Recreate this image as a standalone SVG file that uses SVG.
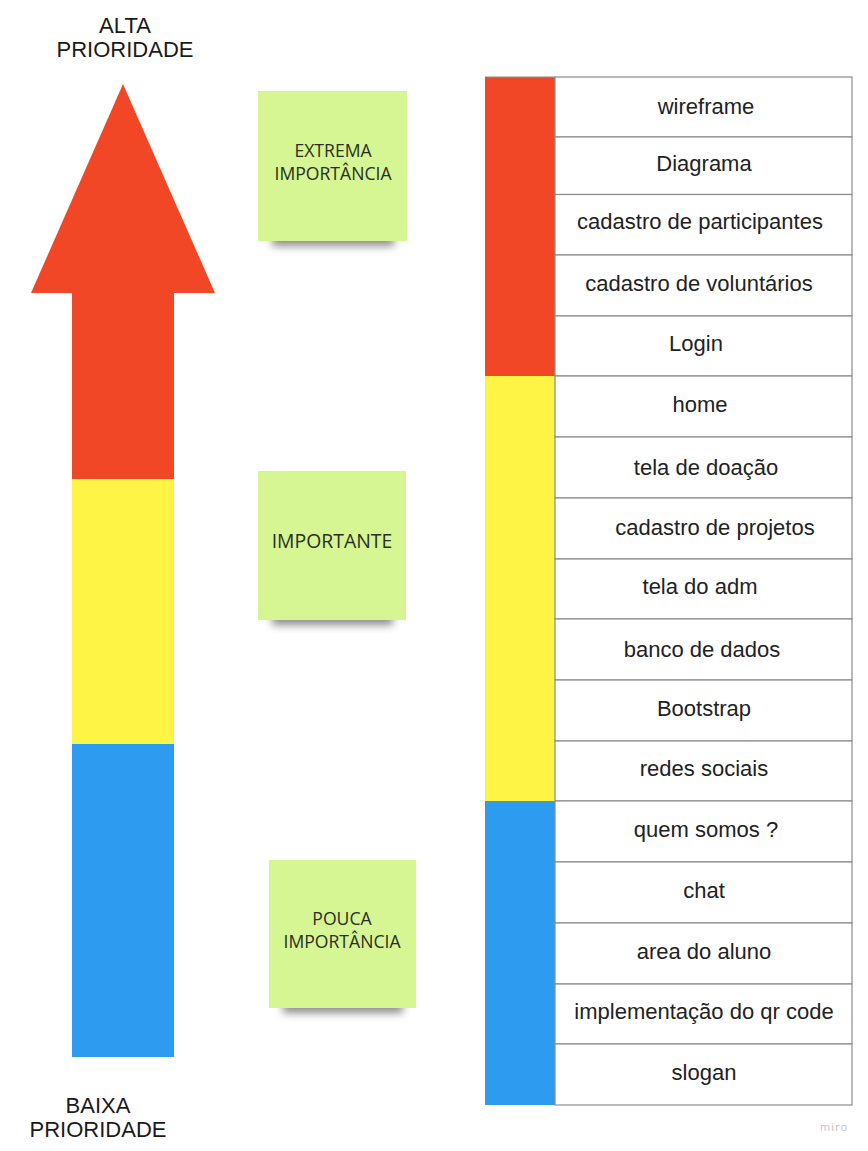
<svg xmlns="http://www.w3.org/2000/svg" width="868" height="1151" viewBox="0 0 868 1151">
  <defs>
    <filter id="stickyShadow" x="-30%" y="-100%" width="160%" height="300%">
      <feGaussianBlur stdDeviation="4"/>
    </filter>
    <style>
      .red { fill: #f24726; }
      .yellow { fill: #fef445; }
      .blue { fill: #2d9bf0; }
      .label { font-family: "Liberation Sans", Arial, sans-serif; font-size: 22px; fill: #1a1a1a; text-anchor: middle; }
      .cell { fill: #ffffff; stroke: #8c8c8c; stroke-width: 1.2; }
      .item { font-family: "Liberation Sans", Arial, sans-serif; font-size: 22px; fill: #222222; text-anchor: middle; }
      .note { fill: #d5f692; }
      .noteShadow { fill: #000000; opacity: 0.45; filter: url(#stickyShadow); }
      .noteText { font-family: "Open Sans", "Noto Sans", sans-serif; fill: #2a2f25; text-anchor: middle; }
      .brand { font-family: "Open Sans", "Liberation Sans", sans-serif; font-size: 11px; fill: #c4c4c4; letter-spacing: 1px; text-anchor: middle; }
    </style>
  </defs>

  <rect width="868" height="1151" fill="#ffffff"/>

  <!-- priority arrow -->
  <g id="priority-arrow">
    <polygon class="red" points="123,84 215,293 31,293"/>
    <rect class="red" x="72" y="292" width="102" height="188"/>
    <rect class="yellow" x="72" y="479" width="102" height="265"/>
    <rect class="blue" x="72" y="744" width="102" height="313"/>
  </g>

  <g id="label-high">
    <text class="label" x="125" y="33">ALTA</text>
    <text class="label" x="125" y="57">PRIORIDADE</text>
  </g>
  <g id="label-low">
    <text class="label" x="98" y="1113">BAIXA</text>
    <text class="label" x="98" y="1137">PRIORIDADE</text>
  </g>

  <!-- sticky notes -->
  <g id="note-extrema">
    <rect class="noteShadow" x="272" y="232" width="122" height="14"/>
    <rect class="note" x="258" y="91" width="149" height="150"/>
    <text class="noteText" font-size="17.6" x="333" y="157">EXTREMA</text>
    <text class="noteText" font-size="17.6" x="333" y="180">IMPORTÂNCIA</text>
  </g>
  <g id="note-importante">
    <rect class="noteShadow" x="272" y="611" width="121" height="14"/>
    <rect class="note" x="258" y="471" width="148" height="149"/>
    <text class="noteText" font-size="19.4" x="332" y="548">IMPORTANTE</text>
  </g>
  <g id="note-pouca">
    <rect class="noteShadow" x="283" y="999" width="120" height="14"/>
    <rect class="note" x="269" y="860" width="147" height="148"/>
    <text class="noteText" font-size="17.6" x="342" y="925">POUCA</text>
    <text class="noteText" font-size="17.6" x="342" y="948">IMPORTÂNCIA</text>
  </g>

  <!-- priority colour column -->
  <g id="priority-column">
    <rect class="red" x="485" y="77" width="70" height="300"/>
    <rect class="yellow" x="485" y="376" width="70" height="425"/>
    <rect class="blue" x="485" y="801" width="70" height="304"/>
    <line x1="485" y1="77" x2="555" y2="77" stroke="#8c8c8c" stroke-width="1.2"/>
  </g>

  <!-- task list -->
  <g id="task-list">
    <g id="row-wireframe"><rect class="cell" x="555" y="77" width="297" height="60"/><text class="item" x="706" y="114">wireframe</text></g>
    <g id="row-diagrama"><rect class="cell" x="555" y="137" width="297" height="57.5"/><text class="item" x="704" y="171">Diagrama</text></g>
    <g id="row-cadastro-participantes"><rect class="cell" x="555" y="194.5" width="297" height="60.5"/><text class="item" x="700" y="229">cadastro de participantes</text></g>
    <g id="row-cadastro-voluntarios"><rect class="cell" x="555" y="255" width="297" height="61"/><text class="item" x="699" y="291">cadastro de voluntários</text></g>
    <g id="row-login"><rect class="cell" x="555" y="316" width="297" height="60"/><text class="item" x="696" y="351">Login</text></g>
    <g id="row-home"><rect class="cell" x="555" y="376" width="297" height="61"/><text class="item" x="700" y="412">home</text></g>
    <g id="row-tela-doacao"><rect class="cell" x="555" y="437" width="297" height="61"/><text class="item" x="706" y="475">tela de doação</text></g>
    <g id="row-cadastro-projetos"><rect class="cell" x="555" y="498" width="297" height="61"/><text class="item" x="715" y="535">cadastro de projetos</text></g>
    <g id="row-tela-adm"><rect class="cell" x="555" y="559" width="297" height="60"/><text class="item" x="700" y="594">tela do adm</text></g>
    <g id="row-banco-dados"><rect class="cell" x="555" y="619" width="297" height="61"/><text class="item" x="702" y="657">banco de dados</text></g>
    <g id="row-bootstrap"><rect class="cell" x="555" y="680" width="297" height="61"/><text class="item" x="704" y="716">Bootstrap</text></g>
    <g id="row-redes-sociais"><rect class="cell" x="555" y="741" width="297" height="60"/><text class="item" x="704" y="776">redes sociais</text></g>
    <g id="row-quem-somos"><rect class="cell" x="555" y="801" width="297" height="61"/><text class="item" x="706" y="837">quem somos ?</text></g>
    <g id="row-chat"><rect class="cell" x="555" y="862" width="297" height="61"/><text class="item" x="704" y="898">chat</text></g>
    <g id="row-area-aluno"><rect class="cell" x="555" y="923" width="297" height="61"/><text class="item" x="704" y="959">area do aluno</text></g>
    <g id="row-qr-code"><rect class="cell" x="555" y="984" width="297" height="60"/><text class="item" x="704" y="1019">implementação do qr code</text></g>
    <g id="row-slogan"><rect class="cell" x="555" y="1044" width="297" height="61"/><text class="item" x="704" y="1080">slogan</text></g>
  </g>

  <text class="brand" x="834" y="1131">miro</text>
</svg>
